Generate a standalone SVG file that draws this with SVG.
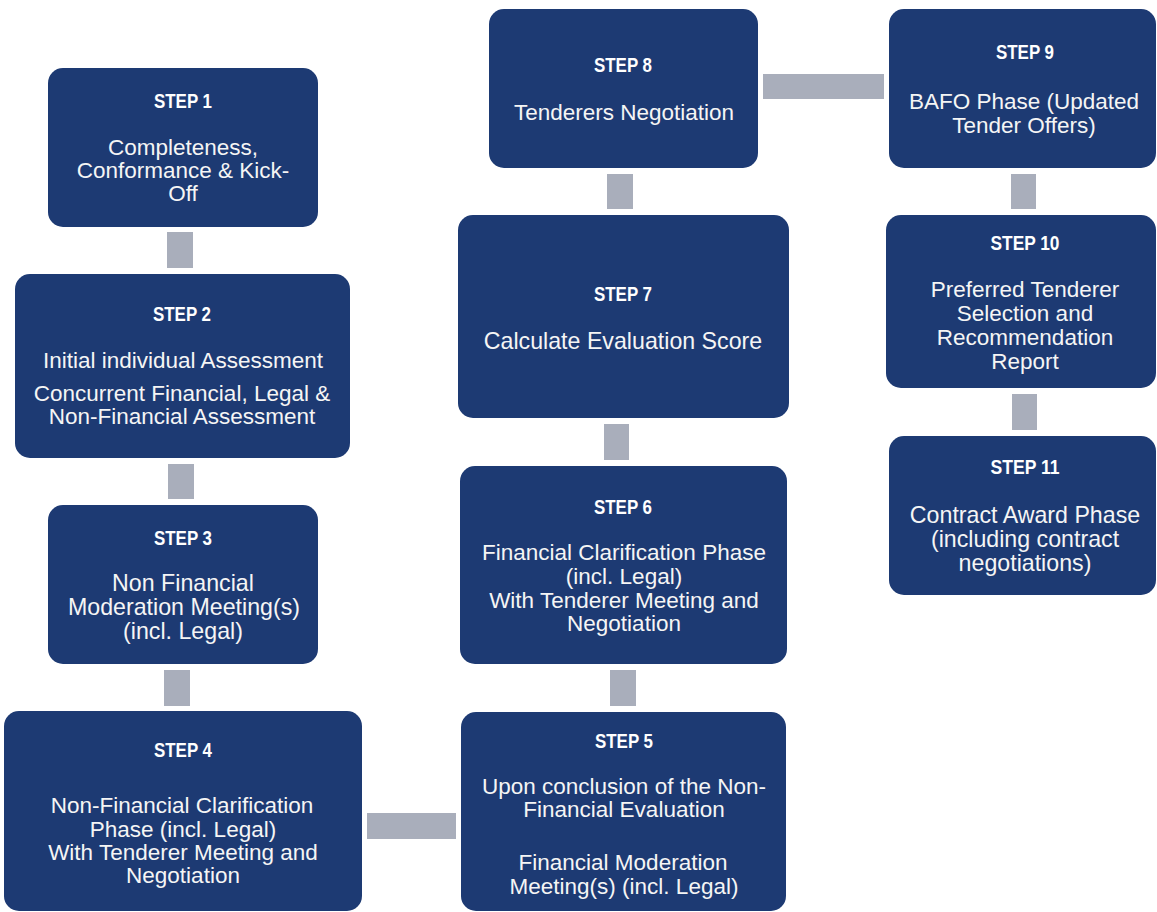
<svg xmlns="http://www.w3.org/2000/svg" width="1157" height="912" viewBox="0 0 1157 912">
<style>
.box{fill:#1d3a73}
.con{fill:#a9aebb}
.h{font-family:"Liberation Sans",Arial,sans-serif;font-weight:bold;font-size:20px;fill:#ffffff;text-anchor:middle}
.t{font-family:"Liberation Sans",Arial,sans-serif;font-size:22.5px;fill:#f5f5f5;text-anchor:middle}
.t2{font-size:23.2px}
</style>
<rect width="1157" height="912" fill="#ffffff"/>
<g id="connectors">
<rect class="con" x="167" y="232" width="26" height="36"/>
<rect class="con" x="168" y="464" width="26" height="35"/>
<rect class="con" x="164" y="670" width="26" height="36"/>
<rect class="con" x="367" y="813" width="89" height="26"/>
<rect class="con" x="610" y="670" width="26" height="36"/>
<rect class="con" x="604" y="424" width="25" height="36"/>
<rect class="con" x="607" y="174" width="26" height="35"/>
<rect class="con" x="763" y="74" width="121" height="25"/>
<rect class="con" x="1011" y="174" width="25" height="35"/>
<rect class="con" x="1012" y="394" width="25" height="36"/>
</g>
<g id="step1">
<rect class="box" x="48" y="68" width="270" height="159" rx="15"/>
<text class="h" x="183" y="108" textLength="58" lengthAdjust="spacingAndGlyphs">STEP 1</text>
<text class="t" x="183" y="155">Completeness,</text>
<text class="t" x="183" y="178">Conformance &amp; Kick-</text>
<text class="t" x="183" y="201">Off</text>
</g>
<g id="step2">
<rect class="box" x="15" y="274" width="335" height="184" rx="15"/>
<text class="h" x="182" y="321" textLength="58" lengthAdjust="spacingAndGlyphs">STEP 2</text>
<text class="t" x="183" y="368">Initial  individual  Assessment</text>
<text class="t" x="182" y="401">Concurrent Financial, Legal &amp;</text>
<text class="t" x="182" y="424">Non-Financial Assessment</text>
</g>
<g id="step3">
<rect class="box" x="48" y="505" width="270" height="159" rx="15"/>
<text class="h" x="183" y="545" textLength="58" lengthAdjust="spacingAndGlyphs">STEP 3</text>
<text class="t t2" x="183" y="591">Non Financial</text>
<text class="t t2" x="184" y="615">Moderation Meeting(s)</text>
<text class="t t2" x="183" y="639">(incl. Legal)</text>
</g>
<g id="step4">
<rect class="box" x="4" y="711" width="358" height="200" rx="15"/>
<text class="h" x="183" y="757" textLength="58" lengthAdjust="spacingAndGlyphs">STEP 4</text>
<text class="t" x="182" y="813">Non-Financial Clarification</text>
<text class="t" x="183" y="837">Phase (incl. Legal)</text>
<text class="t" x="183" y="860">With Tenderer Meeting and</text>
<text class="t" x="183" y="883">Negotiation</text>
</g>
<g id="step5">
<rect class="box" x="461" y="712" width="325" height="199" rx="15"/>
<text class="h" x="624" y="748" textLength="58" lengthAdjust="spacingAndGlyphs">STEP 5</text>
<text class="t" x="624" y="794">Upon conclusion of the Non-</text>
<text class="t" x="624" y="817">Financial Evaluation</text>
<text class="t" x="623" y="870">Financial Moderation</text>
<text class="t" x="624" y="894">Meeting(s) (incl. Legal)</text>
</g>
<g id="step6">
<rect class="box" x="460" y="466" width="327" height="198" rx="15"/>
<text class="h" x="623" y="514" textLength="58" lengthAdjust="spacingAndGlyphs">STEP 6</text>
<text class="t" x="624" y="560">Financial Clarification Phase</text>
<text class="t" x="624" y="584">(incl. Legal)</text>
<text class="t" x="624" y="608">With Tenderer Meeting and</text>
<text class="t" x="624" y="631">Negotiation</text>
</g>
<g id="step7">
<rect class="box" x="458" y="215" width="331" height="203" rx="15"/>
<text class="h" x="623" y="301" textLength="58" lengthAdjust="spacingAndGlyphs">STEP 7</text>
<text class="t t2" x="623" y="349">Calculate Evaluation Score</text>
</g>
<g id="step8">
<rect class="box" x="489" y="9" width="269" height="159" rx="15"/>
<text class="h" x="623" y="72" textLength="58" lengthAdjust="spacingAndGlyphs">STEP 8</text>
<text class="t" x="624" y="120">Tenderers Negotiation</text>
</g>
<g id="step9">
<rect class="box" x="889" y="9" width="267" height="159" rx="15"/>
<text class="h" x="1025" y="59" textLength="58" lengthAdjust="spacingAndGlyphs">STEP 9</text>
<text class="t" x="1024" y="109">BAFO Phase (Updated</text>
<text class="t" x="1024" y="133">Tender Offers)</text>
</g>
<g id="step10">
<rect class="box" x="886" y="215" width="270" height="173" rx="15"/>
<text class="h" x="1025" y="250" textLength="69" lengthAdjust="spacingAndGlyphs">STEP 10</text>
<text class="t" x="1025" y="297">Preferred Tenderer</text>
<text class="t" x="1025" y="321">Selection and</text>
<text class="t" x="1025" y="345">Recommendation</text>
<text class="t" x="1025" y="369">Report</text>
</g>
<g id="step11">
<rect class="box" x="889" y="436" width="267" height="159" rx="15"/>
<text class="h" x="1025" y="474" textLength="69" lengthAdjust="spacingAndGlyphs">STEP 11</text>
<text class="t t2" x="1025" y="523">Contract Award Phase</text>
<text class="t t2" x="1025" y="547">(including contract</text>
<text class="t t2" x="1025" y="571">negotiations)</text>
</g>
</svg>
